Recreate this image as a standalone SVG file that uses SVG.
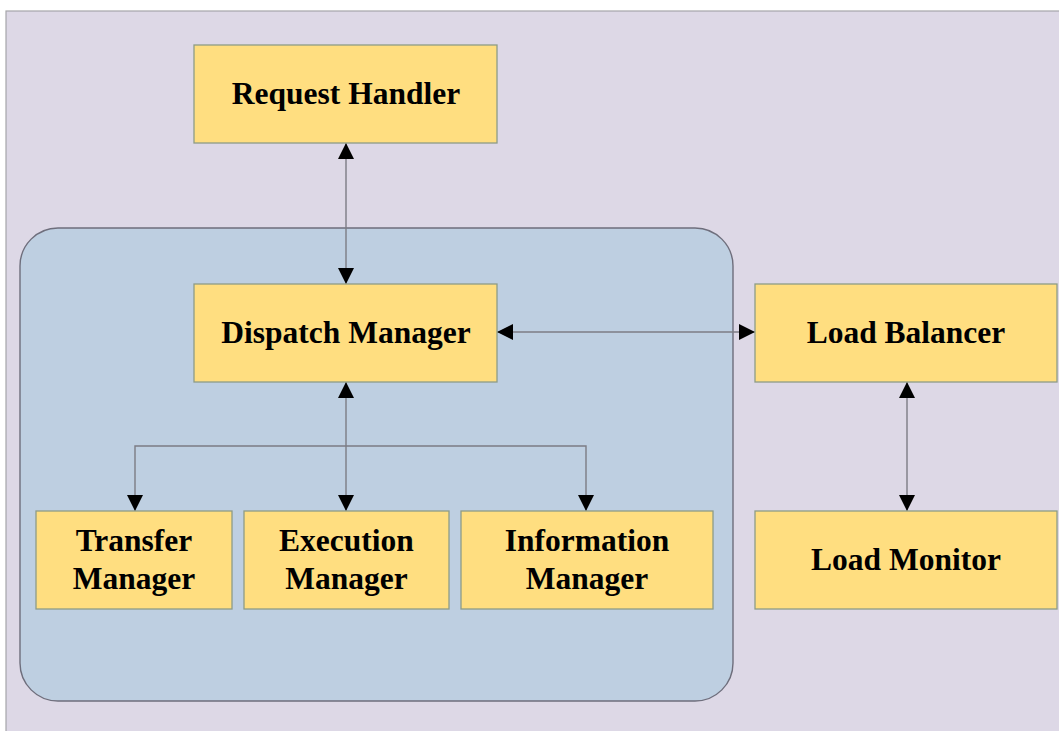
<svg xmlns="http://www.w3.org/2000/svg" width="1059" height="731" viewBox="0 0 1059 731">
  <style>
    .box { fill: #FFDE80; stroke: #8E9C86; stroke-width: 1.3; }
    .lbl { font-family: "Liberation Serif", "Times New Roman", serif; font-weight: bold; font-size: 31.5px; fill: #000; text-anchor: middle; }
    .conn { fill: none; stroke: #7C7C84; stroke-width: 1.4; }
  </style>
  <defs>
    <marker id="ah" markerUnits="userSpaceOnUse" viewBox="0 0 16 16" markerWidth="16" markerHeight="16" refX="16" refY="8" orient="auto-start-reverse">
      <path d="M0,0 L16,8 L0,16 z" fill="#000"/>
    </marker>
  </defs>
  <rect x="0" y="0" width="1059" height="731" fill="#FFFFFF"/>
  <rect id="background" x="6" y="11" width="1060" height="730" fill="#DDD8E6" stroke="#A6A6AA" stroke-width="1.2"/>
  <rect id="container" x="20" y="228" width="713" height="473" rx="38" ry="38" fill="#BECFE1" stroke="#6E6E7C" stroke-width="1.4"/>

  <g id="connectors">
    <path class="conn" d="M346,143 V284" marker-start="url(#ah)" marker-end="url(#ah)"/>
    <path class="conn" d="M497,332 H755" marker-start="url(#ah)" marker-end="url(#ah)"/>
    <path class="conn" d="M346,382 V511" marker-start="url(#ah)" marker-end="url(#ah)"/>
    <path class="conn" d="M346,446 H135 V511" marker-end="url(#ah)"/>
    <path class="conn" d="M346,446 H586 V511" marker-end="url(#ah)"/>
    <path class="conn" d="M907,382 V511" marker-start="url(#ah)" marker-end="url(#ah)"/>
  </g>

  <g id="request-handler">
    <rect class="box" x="194" y="45" width="303" height="98"/>
    <text class="lbl" x="346" y="104">Request Handler</text>
  </g>
  <g id="dispatch-manager">
    <rect class="box" x="194" y="284" width="303" height="98"/>
    <text class="lbl" x="346" y="343">Dispatch Manager</text>
  </g>
  <g id="load-balancer">
    <rect class="box" x="755" y="284" width="302" height="98"/>
    <text class="lbl" x="906" y="343">Load Balancer</text>
  </g>
  <g id="transfer-manager">
    <rect class="box" x="36" y="511" width="196" height="98"/>
    <text class="lbl" x="134" y="551">Transfer</text>
    <text class="lbl" x="134" y="589">Manager</text>
  </g>
  <g id="execution-manager">
    <rect class="box" x="244" y="511" width="205" height="98"/>
    <text class="lbl" x="346.5" y="551">Execution</text>
    <text class="lbl" x="346.5" y="589">Manager</text>
  </g>
  <g id="information-manager">
    <rect class="box" x="461" y="511" width="252" height="98"/>
    <text class="lbl" x="587" y="551">Information</text>
    <text class="lbl" x="587" y="589">Manager</text>
  </g>
  <g id="load-monitor">
    <rect class="box" x="755" y="511" width="302" height="98"/>
    <text class="lbl" x="906" y="570">Load Monitor</text>
  </g>
</svg>
